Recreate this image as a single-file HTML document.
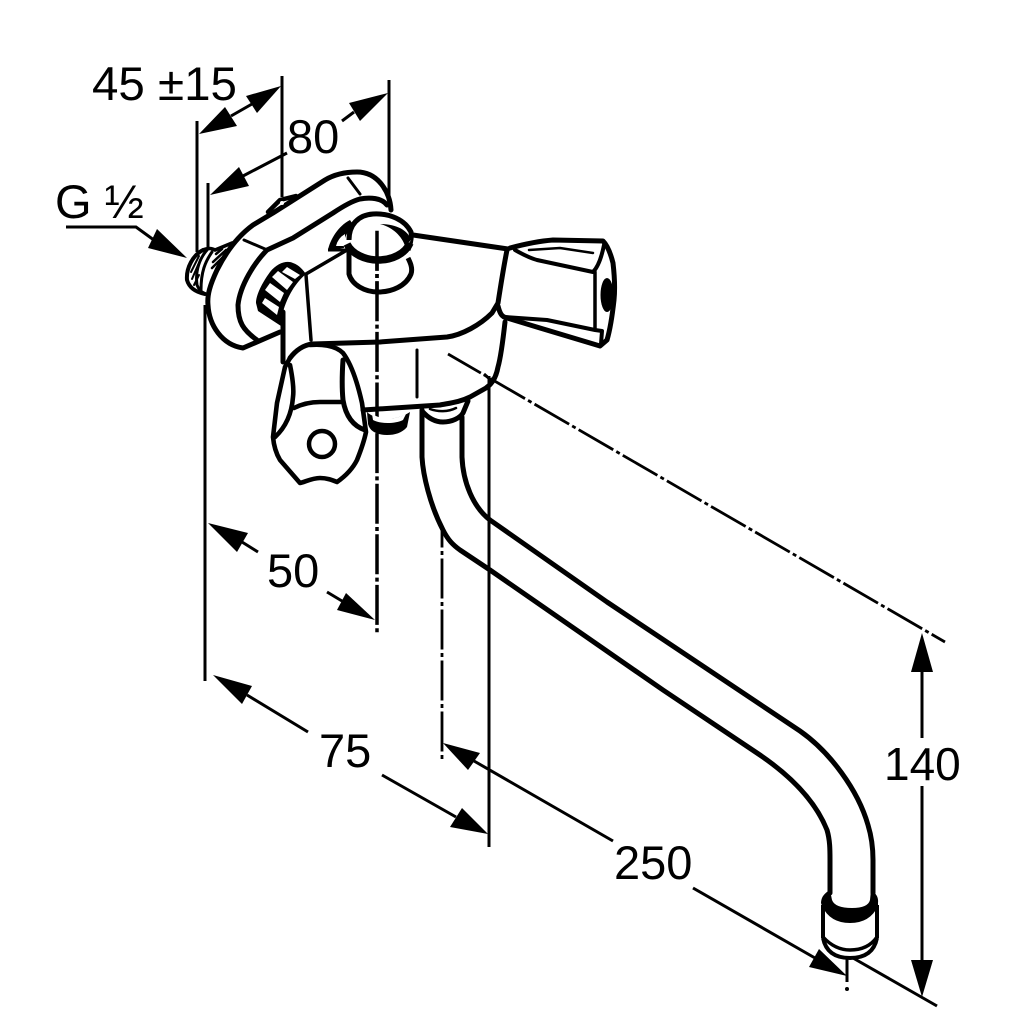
<!DOCTYPE html>
<html><head><meta charset="utf-8"><style>
html,body{margin:0;padding:0;background:#fff}
svg{display:block}
text{font-family:"Liberation Sans",sans-serif;font-size:46px;fill:#000}
</style></head><body>
<svg width="1032" height="1032" viewBox="0 0 1032 1032" xmlns="http://www.w3.org/2000/svg">
<rect width="1032" height="1032" fill="#fff"/>
<!-- extension lines -->
<g stroke="#000" stroke-width="3" fill="none">
<path d="M197 121V252M282 76V197M389 80V207M208 183V247M205 305V681M489 376V847"/>
<path d="M847 958V982" />
<path d="M853 958L937 1006"/>
<path d="M484 374L493 382" />
</g>
<circle cx="847" cy="989" r="2" fill="#000"/>
<!-- dash-dot -->
<g stroke="#000" fill="none" stroke-dasharray="40 3.5 4 3.5">
<path d="M377 230.7V633" stroke-width="3.5" stroke-dasharray="40 3.3 4 3.3"/>
<path d="M442 530V760" stroke-width="2.8" stroke-dashoffset="22.5"/>
<path d="M448 354L945 642" stroke-width="2.8" stroke-dashoffset="2"/>
</g>
<!-- spout -->
<g stroke="#000" stroke-width="5" fill="none" stroke-linejoin="round" stroke-linecap="round">
<path d="M462 417V457C463 482 473 507 490 520L607 602L800 731C830 752 858 790 868 825C872 838 873 850 873 860V893"/>
<path d="M422 410V457C423 475 430 505 443 530C448 540 453 545 460 550L490 570L663 690L757 753C790 775 815 800 827 830C830 840 830 850 830 860V893"/>
</g>
<!-- nozzle -->
<g stroke="#000" fill="none" stroke-linejoin="round">
<path d="M821 903Q821 895 830 890L832 900Q835 908 852 908Q868 908 870 900L871 890Q879 895 878 903V906Q870 923 850 923Q830 923 822 906Z" fill="#000" stroke="none"/>
<path d="M823 905V938M877 905V938" stroke-width="4"/>
<path d="M823 937Q835 950 850 950Q868 950 877 937" stroke-width="3.5"/>
<path d="M823 938Q827 958 850 958Q873 958 877 938" stroke-width="4"/>
</g>
<!-- flange -->
<g stroke="#000" fill="none" stroke-width="5" stroke-linejoin="round" stroke-linecap="round">
<path d="M391 210C390 192 378 172 357 172C345 172 335 174 325 180L273 213L253 225C238 236 226 252 217 270C210 285 207 295 208 305C209 325 222 345 243 348L280 332"/>
<path d="M387 205C382 198 370 197 360 199C352 201 342 207 333 213L293 238L267 250C255 262 240 285 238 305C238 322 243 330 257 340"/>
<path d="M348 178L360 194M244 240L265 249" stroke-width="3"/>
<path d="M268 212L280 200L296 196" stroke-width="4.5"/>
</g>
<circle cx="282" cy="203" r="2" fill="#fff"/>
<!-- knurled nut -->
<path d="M256 303C256 295 262 283 270 272C277 263 287 260 293 263C299 265 303 270 306 274C296 282 287 297 283 312L281 326L258 311Z" fill="#000"/>
<g fill="#fff">
<path d="M282 272L287 267L300 275L295 279Z"/>
<path d="M272 277L278 271L293 282L287 290Z"/>
<path d="M265 290L270 283L284 293L280 302Z"/>
<path d="M262 303L265 298L279 307L277 315Z"/>
</g>
<!-- main body -->
<g stroke="#000" fill="none" stroke-width="5" stroke-linejoin="round" stroke-linecap="round">
<path d="M283 312V362" stroke-width="5"/>
<path d="M306 275L311 340" stroke-width="3.5"/>
<path d="M306 274L347 250" stroke-width="3.5"/>
<path d="M413 235L508 249"/>
<path d="M290 358C296 350 304 345 312 344L380 342L447 337C462 335 480 325 492 313L498 303C500 290 504 265 507 250"/>
<path d="M505 322C503 340 500 360 498 367C496 378 492 384 486 388L470 397C460 402 450 403 440 405L363 410"/>
<path d="M417 350V397" stroke-width="3"/>
<!-- right handle -->
<path d="M510 248C525 244 540 241 553 240L603 241C608 246 611 255 613 263C615 280 615 290 614 300C612 318 610 330 607 340L600 346L540 328L507 318C502 317 500 314 498 306"/>
<path d="M515 250C522 254 530 258 537 260L593 272C599 266 602 255 604 245" stroke-width="4"/>
<path d="M529 250L560 248L593 253" stroke-width="2.5"/>
<path d="M595 272V328" stroke-width="3.5"/>
<path d="M505 317L547 320L595 330L602 331L601 344" stroke-width="4"/>
<!-- lever -->
<path d="M310 345C320 344 335 345 343 353C352 365 358 385 362 403L366 432C364 442 361 450 357 460C353 468 347 475 337 482C332 480 327 478 320 478C312 478 305 482 300 483L280 460C277 455 274 448 273 437L277 403L285 367L290 358" stroke-width="4.6"/>
<path d="M290 365C293 380 294 390 293 397C292 410 288 425 275 437" stroke-width="4.6"/>
<path d="M343 360C342 375 342 390 343 400C345 412 350 425 365 430" stroke-width="5"/>
<path d="M294 408C302 404 312 402 320 402H343" stroke-width="4.6"/>
</g>
<circle cx="322" cy="444" r="13" fill="none" stroke="#000" stroke-width="4.5"/>
<ellipse cx="607" cy="295" rx="6.5" ry="17" fill="#000"/>
<!-- aerator under body -->
<path d="M367 412C375 420 395 422 410 412L407 427C402 433 395 435 387 435C378 435 370 432 368 424Z" fill="#000"/>
<path d="M372 414C382 420 395 420 406 414L403 420C395 424 380 424 373 420Z" fill="#fff"/>
<!-- pipe collar -->
<g stroke="#000" fill="none" stroke-linejoin="round" stroke-linecap="round">
<path d="M422 411C428 418 435 422 443 422C452 422 460 418 463 413L468 401" stroke-width="5"/>
<path d="M430 409C438 412 448 412 456 408" stroke-width="2.5"/>
</g>
<!-- diverter knob -->
<path d="M328 250C330 240 338 226 350 220L354 226C346 232 343 240 344 248Z" fill="#000"/>
<path d="M336 246Q338 238 345 234L345 246Z" fill="#fff"/>
<path d="M328 250L348 250" stroke="#000" stroke-width="3"/>
<g stroke="#000" fill="none" stroke-linejoin="round">
<path d="M349 240C349 225 358 215 373 214C390 213 405 220 411 232C412 238 410 245 408 250" fill="#fff" stroke-width="5"/>
<path d="M348 240C352 252 365 258 378 258C392 258 405 250 411 240" fill="#fff" stroke="none"/>
<path d="M347 244C352 254 365 260 378 260C392 260 405 254 410 243" stroke-width="7.5"/>
<path d="M349 250V274C352 285 365 292 378 292C392 292 406 286 411 274C413 268 410 262 408 258" stroke-width="5"/>
</g>
<path d="M380 224C392 227 402 236 405 246L411 240C408 230 396 224 380 224Z" fill="#000"/>
<path d="M377 230.7V290" stroke="#000" stroke-width="3.5" stroke-dasharray="40 3.3 4 3.3"/>
<!-- G thread -->
<g stroke="#000" fill="none" stroke-linecap="round">
<path d="M203 250C193 255 186 268 187 280C189 287 195 292 205 294" stroke-width="4"/>
<path d="M207 250C200 258 195 270 197 285C199 290 201 292 204 293" stroke-width="3"/>
<path d="M212 252C205 262 201 272 201 290" stroke-width="3"/>
<path d="M191 272L199 256M192 279L198 265M194 285L199 275" stroke-width="2"/>
<path d="M203 250Q210 247 215 250L232 243" stroke-width="3.5"/>
<path d="M216 254L222 249M213 262L226 250M212 268L222 258" stroke-width="2.5"/>
</g>
<!-- dimension arrows -->
<g stroke="#000" stroke-width="3" fill="none">
<path d="M231 116L252 104"/>
<path d="M243 176L287 153"/>
<path d="M342 121L354 112"/>
<path d="M66 227H136L158 243"/>
<path d="M242 542L258 552"/>
<path d="M327 592L342 601"/>
<path d="M247 695L308 732"/>
<path d="M382 775L456 817"/>
<path d="M474 761L613 841"/>
<path d="M693 888L815 958"/>
<path d="M922 672V738M922 786V960"/>
</g>
<g fill="#000">
<path d="M199 134L225 107L237 126Z"/>
<path d="M281 86L246 96L257 113Z"/>
<path d="M210 195L239 167L249 186Z"/>
<path d="M388 93L349 103L360 121Z"/>
<path d="M187 258L157 229L148 248Z"/>
<path d="M208 523L248 533L237 552Z"/>
<path d="M375 620L346 593L337 610Z"/>
<path d="M213 675L252 686L242 704Z"/>
<path d="M488 834L462 808L450 827Z"/>
<path d="M443 743L480 753L468 770Z"/>
<path d="M847 976L819 949L809 967Z"/>
<path d="M922 633L911 672H933Z"/>
<path d="M922 997L911 960H933Z"/>
</g>
<!-- labels -->
<text x="92" y="100" style="font-size:47.5px">45 ±15</text>
<text x="287" y="153" style="font-size:47px">80</text>
<text x="55" y="218" style="font-size:47px">G ½</text>
<text x="267" y="587" style="font-size:47px">50</text>
<text x="319" y="767" style="font-size:47px">75</text>
<text x="614" y="879" style="font-size:47px">250</text>
<text x="884" y="780" style="font-size:46px">140</text>
</svg>
</body></html>
